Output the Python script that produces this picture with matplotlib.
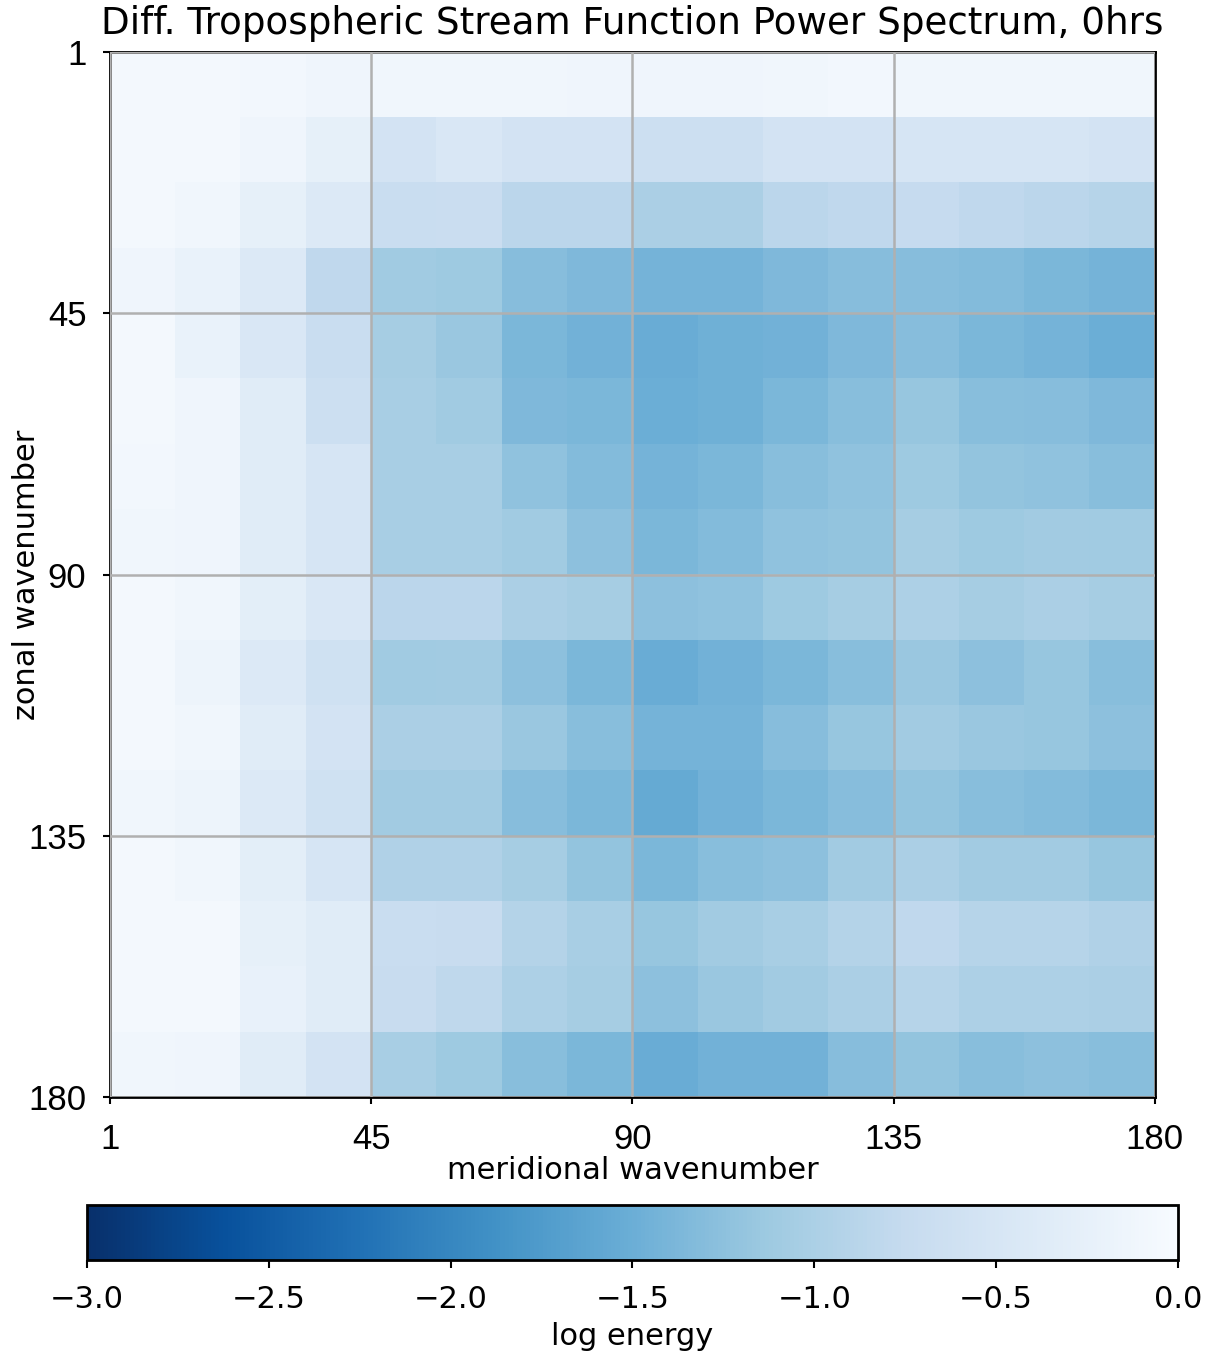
import numpy as np
import matplotlib
matplotlib.use("Agg")
import matplotlib.pyplot as plt

# log energy of the difference spectrum, rows = zonal bins (1 -> 180), cols = meridional bins
log_energy = np.array([
    [-0.05, -0.06, -0.08, -0.12, -0.10, -0.10, -0.10, -0.12, -0.12, -0.12, -0.10, -0.08, -0.10, -0.10, -0.10, -0.10],
    [-0.05, -0.06, -0.12, -0.25, -0.55, -0.45, -0.55, -0.55, -0.65, -0.65, -0.55, -0.55, -0.50, -0.50, -0.50, -0.55],
    [-0.05, -0.10, -0.25, -0.40, -0.70, -0.68, -0.85, -0.85, -1.00, -1.00, -0.85, -0.80, -0.75, -0.80, -0.85, -0.90],
    [-0.12, -0.20, -0.40, -0.80, -1.10, -1.12, -1.30, -1.35, -1.42, -1.42, -1.35, -1.30, -1.30, -1.32, -1.38, -1.42],
    [-0.05, -0.20, -0.45, -0.70, -1.05, -1.15, -1.38, -1.45, -1.52, -1.47, -1.45, -1.35, -1.30, -1.38, -1.42, -1.50],
    [-0.05, -0.12, -0.35, -0.65, -1.02, -1.10, -1.35, -1.38, -1.50, -1.47, -1.38, -1.28, -1.18, -1.28, -1.30, -1.35],
    [-0.08, -0.12, -0.35, -0.50, -1.02, -1.02, -1.22, -1.32, -1.42, -1.38, -1.28, -1.22, -1.12, -1.20, -1.22, -1.28],
    [-0.10, -0.12, -0.35, -0.50, -1.02, -1.02, -1.10, -1.25, -1.38, -1.32, -1.22, -1.20, -1.05, -1.12, -1.08, -1.10],
    [-0.07, -0.10, -0.30, -0.45, -0.85, -0.85, -1.00, -1.05, -1.25, -1.22, -1.12, -1.05, -0.98, -1.05, -1.00, -1.05],
    [-0.07, -0.15, -0.40, -0.60, -1.10, -1.08, -1.25, -1.38, -1.52, -1.45, -1.38, -1.28, -1.15, -1.25, -1.18, -1.28],
    [-0.05, -0.10, -0.35, -0.55, -1.00, -1.00, -1.15, -1.28, -1.42, -1.42, -1.30, -1.18, -1.08, -1.15, -1.18, -1.25],
    [-0.10, -0.15, -0.40, -0.60, -1.08, -1.08, -1.30, -1.38, -1.55, -1.45, -1.38, -1.30, -1.20, -1.28, -1.32, -1.38],
    [-0.05, -0.10, -0.30, -0.50, -0.95, -0.95, -1.05, -1.20, -1.38, -1.28, -1.25, -1.08, -1.00, -1.08, -1.08, -1.18],
    [-0.05, -0.05, -0.25, -0.35, -0.70, -0.72, -0.92, -1.02, -1.18, -1.08, -1.02, -0.92, -0.80, -0.90, -0.90, -0.95],
    [-0.05, -0.07, -0.22, -0.35, -0.72, -0.82, -0.98, -1.05, -1.25, -1.15, -1.08, -1.00, -0.90, -0.98, -0.98, -1.00],
    [-0.10, -0.12, -0.35, -0.55, -1.02, -1.12, -1.28, -1.38, -1.52, -1.45, -1.45, -1.30, -1.20, -1.28, -1.25, -1.28],
])

wave_ticks = [0, 45, 90, 135, 180]
wave_labels = ['1', '45', '90', '135', '180']
cbar_ticks = [-3.0, -2.5, -2.0, -1.5, -1.0, -0.5, 0.0]

fig = plt.figure(figsize=(12.12, 13.57), dpi=100)
ax = fig.add_axes([0.0908, 0.1916, 0.862, 0.770])

im = ax.imshow(log_energy, cmap='Blues_r', vmin=-3, vmax=0,
               extent=[0, 180, 180, 0], aspect='auto', interpolation='nearest')

ax.set_xticks(wave_ticks)
ax.set_yticks(wave_ticks)
ax.set_xticklabels(wave_labels, family='Liberation Sans', fontsize=25)
ax.set_yticklabels(wave_labels, family='Liberation Sans', fontsize=25)
ax.tick_params(axis='x', pad=14, length=5, width=1.5)
ax.tick_params(axis='y', pad=12, length=5, width=1.5)
ax.grid(True, color='#b0b0b0', linewidth=1.8)
ax.set_axisbelow(False)
for sp in ax.spines.values():
    sp.set_linewidth(2)

ax.set_title("Diff. Tropospheric Stream Function Power Spectrum, 0hrs", fontsize=26.8, pad=13)
ax.set_xlabel("meridional wavenumber", fontsize=22, labelpad=0)
ax.set_ylabel("zonal wavenumber", fontsize=22)
ax.yaxis.set_label_coords(-0.066, 0.5)

cax = fig.add_axes([0.0718, 0.0715, 0.900, 0.0405])
cb = fig.colorbar(im, cax=cax, orientation='horizontal', ticks=cbar_ticks)
cb.ax.tick_params(labelsize=22, length=6, width=1.5, pad=12)
cb.outline.set_linewidth(2)
cb.set_label("log energy", fontsize=22, labelpad=6)

fig.savefig("out.png", dpi=100)
